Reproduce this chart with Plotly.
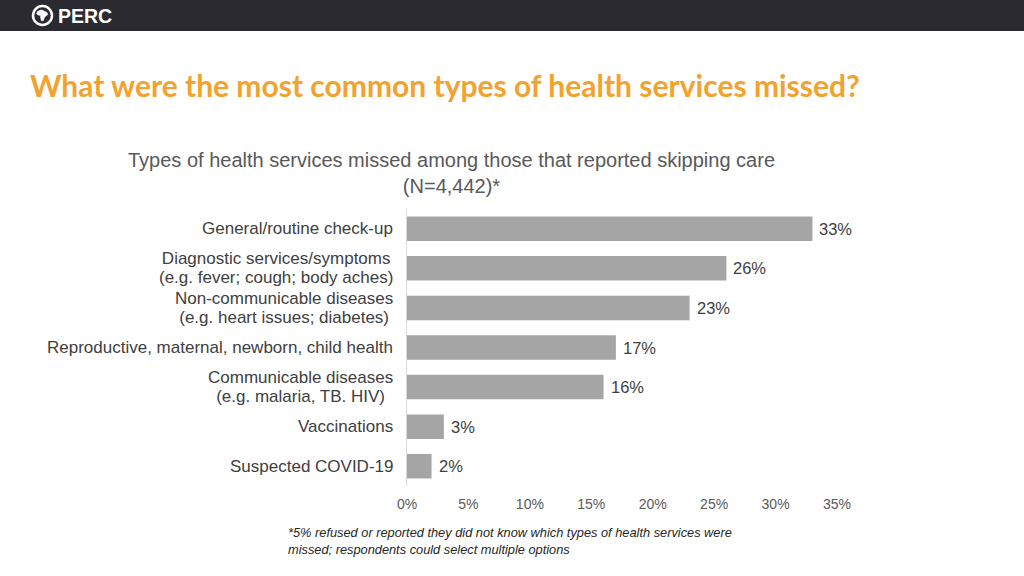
import plotly.graph_objects as go

categories = [
    "General/routine check-up",
    "Diagnostic services/symptoms<br>(e.g. fever; cough; body aches)",
    "Non-communicable diseases<br>(e.g. heart issues; diabetes)",
    "Reproductive, maternal, newborn, child health",
    "Communicable diseases<br>(e.g. malaria, TB. HIV)",
    "Vaccinations",
    "Suspected COVID-19",
]
values = [33, 26, 23, 17, 16, 3, 2]
value_labels = ["33%", "26%", "23%", "17%", "16%", "3%", "2%"]
x_ticks = [0, 5, 10, 15, 20, 25, 30, 35]

W, H = 1024, 576

fig = go.Figure()
fig.add_trace(go.Bar(
    y=categories, x=values, orientation="h",
    marker=dict(color="#a5a5a5", line=dict(width=0)),
    width=0.62,
    hoverinfo="skip",
))

for c, v, t in zip(categories, values, value_labels):
    styled = "<br>".join(f"<span style='font-size:17px'>{ln}</span>" for ln in c.split("<br>"))
    fig.add_annotation(
        x=0, y=c, xref="x", yref="y", text=styled, showarrow=False,
        xanchor="right", yanchor="middle", align="center", xshift=-12,
        font=dict(family="Liberation Sans, Arial", size=14.8, color="#404040"),
    )
    fig.add_annotation(
        x=v, y=c, xref="x", yref="y", text=t, showarrow=False,
        xanchor="left", yanchor="middle", xshift=5,
        font=dict(family="Liberation Sans, Arial", size=16.5, color="#404040"),
    )

fig.update_layout(
    width=W, height=H,
    margin=dict(l=0, r=0, t=0, b=0, autoexpand=False),
    paper_bgcolor="white", plot_bgcolor="white",
    showlegend=False,
    xaxis=dict(
        domain=[407 / W, 837 / W], range=[0, 35], automargin=False,
        tickvals=x_ticks, ticktext=[f"{v}%" for v in x_ticks],
        showgrid=False, zeroline=False, showline=False, ticks="",
        tickfont=dict(family="Liberation Sans, Arial", size=14, color="#595959"),
        ticklabelstandoff=8,
    ),
    yaxis=dict(
        domain=[1 - 486 / H, 1 - 209 / H], automargin=False,
        autorange="reversed", showticklabels=False,
        showgrid=False, zeroline=False, showline=True,
        linecolor="#d9d9d9", linewidth=1, ticks="",
    ),
)

# header bar
fig.add_shape(type="rect", xref="paper", yref="paper",
              x0=0, x1=1, y0=1 - 31 / H, y1=1,
              fillcolor="#2b2a31", line=dict(width=0), layer="above")
cx, cy = 42.5, 15.5
fig.add_shape(type="circle", xref="paper", yref="paper",
              x0=(cx - 9.5) / W, x1=(cx + 9.5) / W, y0=1 - (cy + 9.5) / H, y1=1 - (cy - 9.5) / H,
              line=dict(color="white", width=2.5), fillcolor="#2b2a31", layer="above")
africa = [(-5, -4), (-2, -5.5), (1, -5), (2, -4), (4, -3.5), (5.5, -1), (4, 0), (2, 2),
          (1, 5), (-1, 5.5), (-2, 2), (-2, 0), (-4.5, -0.5), (-6, -2)]
path = "M " + " L ".join(f"{(cx + dx) / W:.5f},{1 - (cy + dy) / H:.5f}" for dx, dy in africa) + " Z"
fig.add_shape(type="path", xref="paper", yref="paper", path=path,
              fillcolor="white", line=dict(color="white", width=0.5), layer="above")
fig.add_annotation(x=56 / W, y=1 - 16 / H, xref="paper", yref="paper",
                   text="<b>PERC</b>", showarrow=False, xanchor="left", yanchor="middle",
                   font=dict(size=19.5, color="white", family="Liberation Sans, Arial"))

# title
fig.add_annotation(x=28 / W, y=1 - 85 / H, xref="paper", yref="paper",
                   text="<b>What were the most common types of health services missed?</b>",
                   showarrow=False, xanchor="left", yanchor="middle",
                   font=dict(size=30, color="#f2a22e", family="Lato, Open Sans"))

# chart subtitle
fig.add_annotation(x=451 / W, y=1 - 173 / H, xref="paper", yref="paper",
                   text="Types of health services missed among those that reported skipping care<br>(N=4,442)*",
                   showarrow=False, xanchor="center", yanchor="middle", align="center",
                   font=dict(size=20, color="#595959", family="Liberation Sans, Arial"))

# footnote
fig.add_annotation(x=286 / W, y=1 - 541 / H, xref="paper", yref="paper",
                   text="<i>*5% refused or reported they did not know which types of health services were<br>missed; respondents could select multiple options</i>",
                   showarrow=False, xanchor="left", yanchor="middle", align="left",
                   font=dict(size=12.8, color="#262626", family="Liberation Sans, Arial"))

fig.write_html(
    "out.html",
    config={"displayModeBar": False},
    post_script="document.body.style.margin='0';document.body.style.overflow='hidden';",
)
